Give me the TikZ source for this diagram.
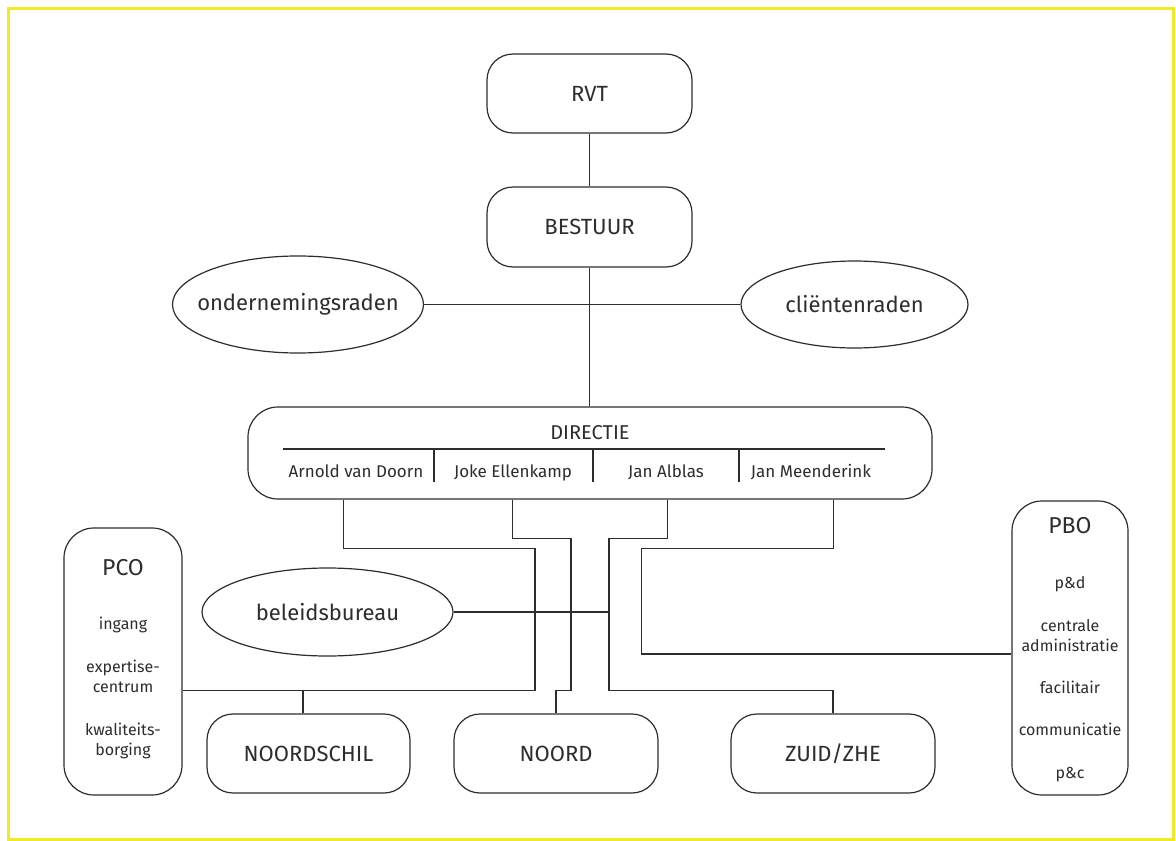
\documentclass[tikz,border=0pt]{standalone}
\usepackage{fontspec}
\setmainfont{Fira Sans}
\usetikzlibrary{shapes.geometric}
\definecolor{frameyellow}{RGB}{242,234,40}
\definecolor{ink}{RGB}{45,45,45}
\begin{document}
\begin{tikzpicture}[x=1pt,y=-1pt,
  box/.style={draw=ink, line width=1.2pt, rounded corners=26pt, inner sep=0pt, text=ink,
    font=\fontsize{22}{26}\selectfont},
  oval/.style={draw=ink, line width=1.2pt, ellipse, inner sep=0pt, text=ink,
    font=\fontsize{22}{26}\selectfont},
  small/.style={anchor=base, inner sep=0pt, text=ink, font=\fontsize{16}{20}\selectfont},
  title/.style={anchor=base, inner sep=0pt, text=ink, font=\fontsize{23}{27}\selectfont},
  pname/.style={anchor=base, inner sep=0pt, text=ink, font=\fontsize{17}{20}\selectfont},
  wire/.style={draw=ink, line width=1.2pt}]
\useasboundingbox (0,0) rectangle (1176,841);
\fill[white] (0,0) rectangle (1176,841);
\draw[frameyellow, line width=3pt] (8.5,8) rectangle (1173.5,839.5);

% top nodes
\node[box, minimum width=205pt, minimum height=79pt] (rvt) at (589.5,93.5) {RVT};
\node[box, minimum width=205pt, minimum height=80pt] (bestuur) at (589.5,227) {BESTUUR};
\node[oval, inner xsep=-12pt, minimum width=250pt, minimum height=97pt] (ond) at (298,304.5) {ondernemingsraden};
\node[oval, minimum width=227pt, minimum height=87pt] (cli) at (854.5,304.5) {cliëntenraden};

% directie
\node[box, rounded corners=30pt, minimum width=684pt, minimum height=92pt] (dir) at (590,453) {};
\node[anchor=base, inner sep=0pt, text=ink, font=\fontsize{20}{24}\selectfont] (dirt) at (590,439) {DIRECTIE};
\coordinate (hl) at (283,449);
\coordinate (hr) at (885,449);
\draw[wire] (hl) -- (hr);
\coordinate (d1) at (434,449);
\coordinate (d2) at (593,449);
\coordinate (d3) at (739,449);
\draw[wire] (d1) -- ++(0,33);
\draw[wire] (d2) -- ++(0,33);
\draw[wire] (d3) -- ++(0,33);
\node[pname] (p1) at (356,477) {Arnold van Doorn};
\node[pname] (p2) at (513,477) {Joke Ellenkamp};
\node[pname] (p3) at (666,477) {Jan Alblas};
\node[pname] (p4) at (811,477) {Jan Meenderink};

% lower nodes
\node[box, rounded corners=30pt, minimum width=118pt, minimum height=267pt] (pco) at (123,661.5) {};
\node[title] (pcot) at (123,575) {PCO};
\node[small] (pco1) at (123,629) {ingang};
\node[small] (pco2) at (123,672) {expertise-};
\node[small] (pco3) at (123,692) {centrum};
\node[small] (pco4) at (123,735) {kwaliteits-};
\node[small] (pco5) at (123,755) {borging};

\node[box, rounded corners=30pt, minimum width=116pt, minimum height=294pt] (pbo) at (1070,648) {};
\node[title] (pbot) at (1070,533) {PBO};
\node[small] (pbo1) at (1070,588) {p\&d};
\node[small] (pbo2) at (1070,631) {centrale};
\node[small] (pbo3) at (1070,651) {administratie};
\node[small] (pbo4) at (1070,693) {facilitair};
\node[small] (pbo5) at (1070,735) {communicatie};
\node[small] (pbo6) at (1070,778) {p\&c};

\node[oval, minimum width=251pt, minimum height=88pt] (bel) at (327.5,612) {beleidsbureau};
\node[box, minimum width=203pt, minimum height=79pt] (ns) at (308.5,753.5) {NOORDSCHIL};
\node[box, minimum width=204pt, minimum height=79pt] (noord) at (556,753.5) {NOORD};
\node[box, minimum width=204pt, minimum height=79pt] (zuid) at (833,753.5) {ZUID/ZHE};

% top connectors
\draw[wire] (rvt.south) -- (rvt.south |- bestuur.north);
\draw[wire] (bestuur.south) -- (bestuur.south |- dir.north);
\draw[wire] (ond.east) -- (cli.west);

% Arnold -> PCO / NOORDSCHIL
\coordinate (a1) at (343.3,548.3);
\coordinate (a2) at (535,690.7);
\coordinate (n0) at (303,690.7);
\draw[wire] (dir.south -| a1) -- (a1) -- (a1 -| a2) -- (a2) -- (pco.east |- a2);
\draw[wire] (n0) -- (n0 |- ns.north);

% Joke -> NOORD
\coordinate (j1) at (512.7,538.3);
\coordinate (j2) at (571,690.7);
\draw[wire] (dir.south -| j1) -- (j1) -- (j1 -| j2) -- (j2) -- (noord.north |- j2) -- (noord.north);

% Alblas -> ZUID/ZHE, beleidsbureau
\coordinate (b1) at (667.3,538.3);
\coordinate (b2) at (609,690.7);
\draw[wire] (dir.south -| b1) -- (b1) -- (b1 -| b2) -- (b2) -- (zuid.north |- b2) -- (zuid.north);
\draw[wire] (bel.east) -- (bel.east -| b2);

% Meenderink -> PBO
\coordinate (m1) at (833.3,548.3);
\coordinate (m2) at (641.7,654);
\draw[wire] (dir.south -| m1) -- (m1) -- (m1 -| m2) -- (m2) -- (pbo.west |- m2);
\end{tikzpicture}
\end{document}
